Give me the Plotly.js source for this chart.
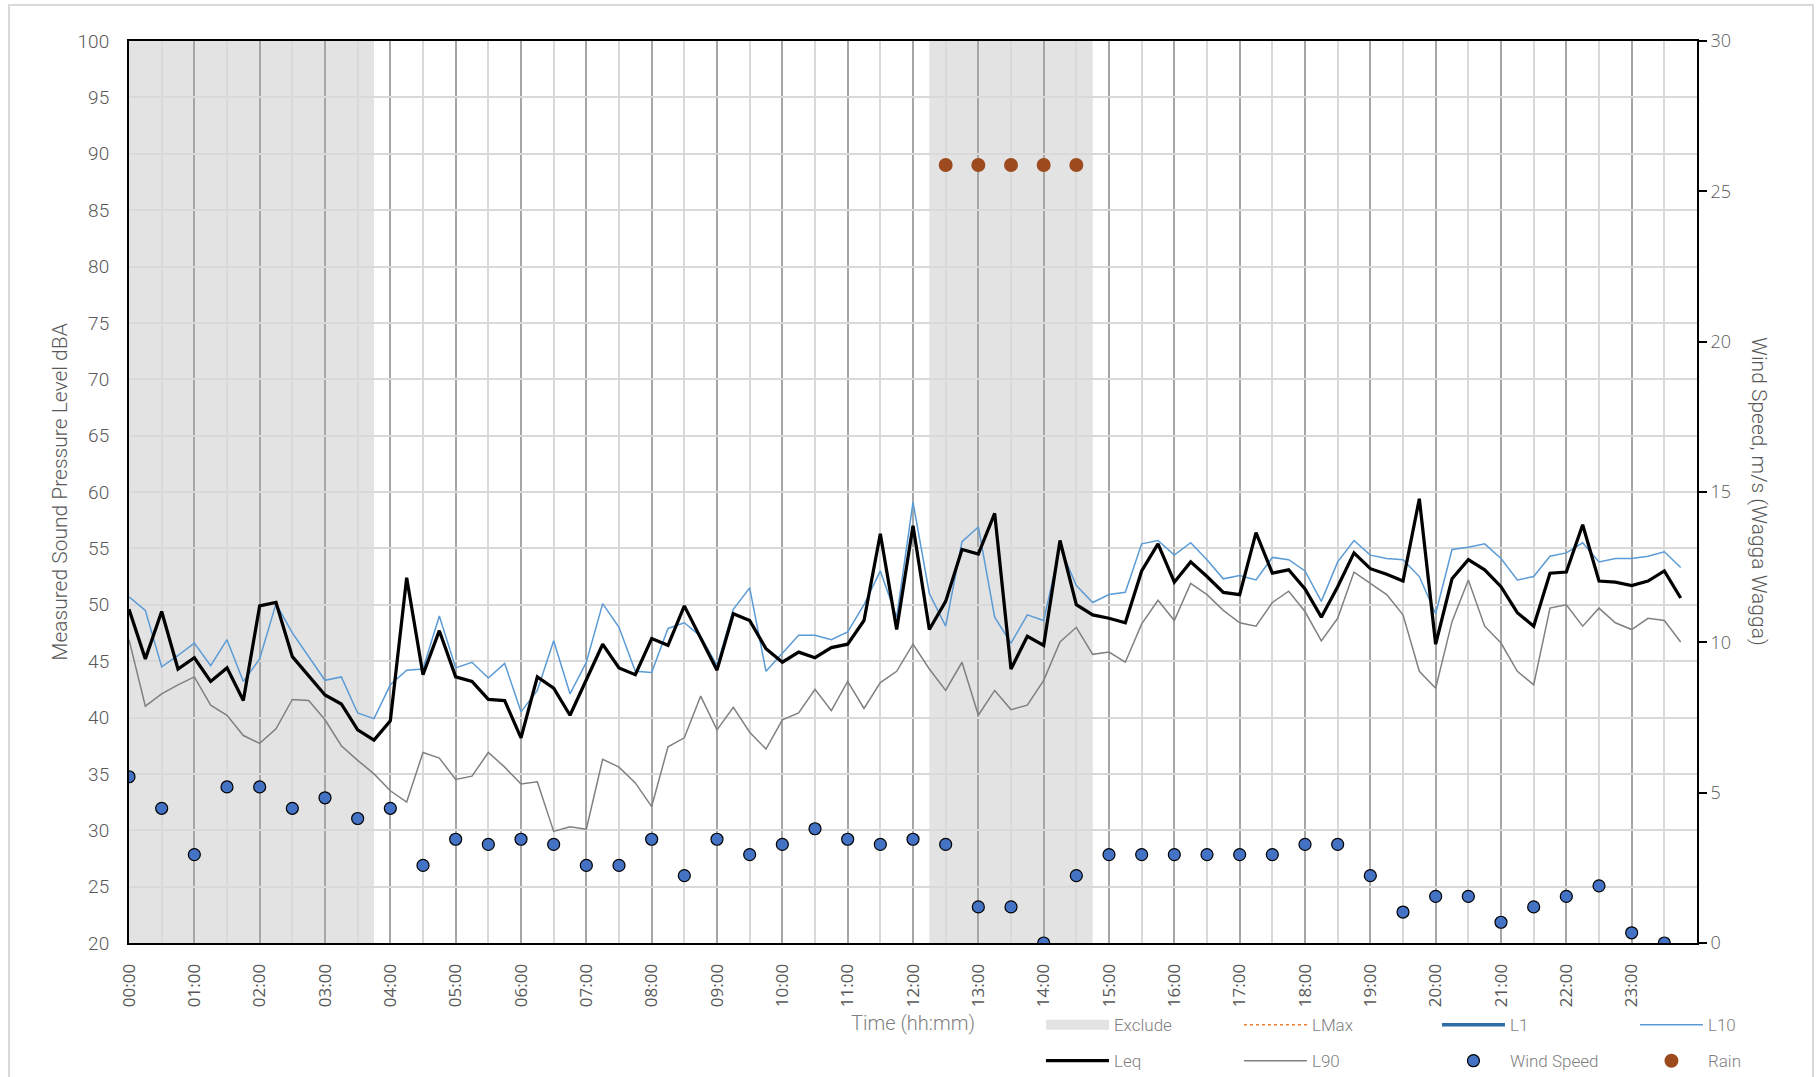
<!DOCTYPE html>
<html><head><meta charset="utf-8">
<script src="https://cdn.plot.ly/plotly-3.0.1.min.js"></script>
<style>
html,body{margin:0;padding:0;background:#fff;overflow:hidden;}
#chart{position:absolute;left:0;top:0;width:1816px;height:1077px;}
#frame{position:absolute;left:8px;top:4px;width:1802px;height:1200px;border:2px solid #d9d9d9;pointer-events:none;}
</style></head><body>
<div id="chart"></div><div id="frame"></div>
<script>
const DAY = '2000-01-01 ';
function pad(n){return (n<10?'0':'')+n;}
// 15-minute interval time labels
const times = [];
for (let h = 0; h < 24; h++) for (let m = 0; m < 60; m += 15) times.push(pad(h) + ':' + pad(m));
// 30-minute interval time labels (wind)
const windTimes = [];
for (let h = 0; h < 24; h++) for (let m = 0; m < 60; m += 30) windTimes.push(pad(h) + ':' + pad(m));
const hourTicks = [];
const halfHourTicks = [];
for (let h = 0; h < 24; h++) { hourTicks.push(pad(h) + ':00'); halfHourTicks.push(pad(h) + ':30'); }

const leq = [49.6,45.2,49.4,44.3,45.3,43.2,44.4,41.5,49.9,50.2,45.4,43.7,42.0,41.2,38.9,38.0,
  39.7,52.4,43.8,47.7,43.6,43.2,41.6,41.5,38.2,43.6,42.6,40.2,43.3,46.5,44.4,43.8,
  47.0,46.4,49.9,47.1,44.2,49.2,48.6,46.1,44.9,45.8,45.3,46.2,46.5,48.6,56.3,47.8,
  57.0,47.8,50.3,54.9,54.5,58.1,44.3,47.2,46.4,55.7,50.0,49.1,48.8,48.4,53.0,55.4,
  52.0,53.8,52.5,51.1,50.9,56.4,52.8,53.1,51.4,48.9,51.6,54.6,53.2,52.7,52.1,59.4,
  46.5,52.3,54.0,53.1,51.6,49.3,48.1,52.8,52.9,57.1,52.1,52.0,51.7,52.1,53.0,50.6];
const l10 = [50.7,49.5,44.5,45.5,46.6,44.6,46.9,43.2,45.2,50.1,47.5,45.4,43.3,43.6,40.4,39.9,
  42.9,44.2,44.3,49.0,44.4,44.9,43.5,44.8,40.5,42.4,46.8,42.1,44.9,50.1,48.0,44.1,
  44.0,47.9,48.4,47.2,44.6,49.6,51.5,44.1,45.7,47.3,47.3,46.9,47.6,50.0,53.0,48.9,
  59.1,51.0,48.1,55.6,56.9,48.9,46.6,49.1,48.6,55.1,51.7,50.2,50.9,51.1,55.4,55.7,
  54.4,55.5,54.0,52.3,52.6,52.2,54.2,54.0,53.0,50.3,53.8,55.7,54.4,54.1,54.0,52.5,
  49.2,54.9,55.1,55.4,54.1,52.2,52.5,54.3,54.6,55.5,53.8,54.1,54.1,54.3,54.7,53.3];
const l90 = [46.9,41.0,42.1,42.9,43.6,41.1,40.2,38.4,37.7,39.0,41.6,41.5,39.8,37.5,36.2,35.0,
  33.5,32.5,36.9,36.4,34.5,34.8,36.9,35.6,34.1,34.3,29.9,30.3,30.1,36.3,35.6,34.2,
  32.1,37.4,38.2,41.9,38.9,40.9,38.7,37.2,39.8,40.4,42.5,40.6,43.2,40.8,43.1,44.1,
  46.5,44.3,42.4,44.9,40.2,42.4,40.7,41.1,43.3,46.7,48.0,45.6,45.8,44.9,48.3,50.4,
  48.6,51.9,50.9,49.5,48.4,48.1,50.2,51.2,49.4,46.8,48.8,52.9,51.9,50.9,49.1,44.1,
  42.6,48.5,52.2,48.1,46.6,44.1,42.9,49.7,50.0,48.1,49.7,48.4,47.8,48.8,48.6,46.7];
// L1 and LMax have no readings drawn in the chart (legend only)
const l1 = [null];
const lmax = [null];
const wind = [5.53,4.48,2.94,5.19,5.19,4.48,4.83,4.14,4.48,2.58,3.45,3.28,3.45,3.28,2.58,2.58,
  3.45,2.24,3.45,2.94,3.28,3.80,3.45,3.28,3.45,3.28,1.20,1.20,0,2.24,2.94,2.94,
  2.94,2.94,2.94,2.94,3.28,3.28,2.24,1.03,1.55,1.55,0.69,1.20,1.55,1.90,0.34,0];
const rainTimes = ['12:30','13:00','13:30','14:00','14:30'];
const rain = [89,89,89,89,89];
const excludeStart = ['00:00','12:15'];
const excludeEnd = ['03:45','14:45'];

const tx = t => DAY + t;
const X = times.map(tx);

const condensed = 'Roboto, "Liberation Sans Narrow", sans-serif';
const wide = '"Open Sans", "DejaVu Sans", sans-serif';
const EXCLUDE_COLOR = '#e3e3e3';

const data = [
  // legend key for the shaded "Exclude" periods (periods themselves are drawn as shapes below the grid)
  {name:'Exclude', x: [tx(excludeStart[0])], y: [null], type:'scatter', mode:'lines',
   line:{color:EXCLUDE_COLOR, width:12}, legend:'legend', legendrank:1},
  {name:'LMax', x: lmax.map((v,i)=>X[i]), y: lmax, type:'scatter', mode:'lines',
   line:{color:'#ED7D31', width:1.5, dash:'dot'}, legend:'legend', legendrank:2},
  {name:'L1', x: l1.map((v,i)=>X[i]), y: l1, type:'scatter', mode:'lines',
   line:{color:'#2E6DA8', width:3.5}, legend:'legend', legendrank:3},
  {name:'L10', x: X, y: l10, type:'scatter', mode:'lines',
   line:{color:'#5B9BD5', width:1.5}, legend:'legend', legendrank:4},
  {name:'L90', x: X, y: l90, type:'scatter', mode:'lines',
   line:{color:'#808080', width:1.5}, legend:'legend2', legendrank:2},
  {name:'Leq', x: X, y: leq, type:'scatter', mode:'lines',
   line:{color:'#000000', width:3.25}, legend:'legend2', legendrank:1},
  {name:'Wind Speed', x: windTimes.map(tx), y: wind, type:'scatter', mode:'markers', yaxis:'y2',
   marker:{color:'#4472C4', size:12, line:{color:'#000000', width:1.2}}, legend:'legend2', legendrank:3},
  {name:'Rain', x: rainTimes.map(tx), y: rain, type:'scatter', mode:'markers',
   marker:{color:'#9E4A1F', size:14}, legend:'legend2', legendrank:4}
];

const shapes = excludeStart.map((s,i) => ({
  type:'rect', xref:'x', yref:'paper', x0: tx(s), x1: tx(excludeEnd[i]), y0:0, y1:1,
  fillcolor:EXCLUDE_COLOR, line:{width:0}, layer:'below'
}));

const legendBase = {
  orientation:'h', xanchor:'left', yanchor:'middle', x:0.5816,
  itemwidth:63, entrywidth:120, entrywidthmode:'pixels', bgcolor:'rgba(0,0,0,0)',
  font:{family:condensed, weight:300, size:17, color:'#7f7f7f'}, traceorder:'normal'
};

const layout = {
  width:1816, height:1077,
  margin:{l:129, r:119, t:41, b:134, autoexpand:false},
  paper_bgcolor:'#ffffff', plot_bgcolor:'#ffffff',
  showlegend:true,
  xaxis:{
    type:'date', range:[tx('00:00'), '2000-01-02 00:00'],
    tickmode:'array', tickvals: hourTicks.map(tx), ticktext: hourTicks,
    tickangle:-90, ticks:'', ticklabelstandoff:12,
    tickfont:{family:wide, size:17, color:'#595959'},
    showgrid:true, gridcolor:'#a6a6a6', gridwidth:2,
    minor:{tickmode:'array', tickvals: halfHourTicks.map(tx), showgrid:true, gridcolor:'#d9d9d9', gridwidth:2, ticks:''},
    showline:true, linecolor:'#000000', linewidth:2, mirror:true, zeroline:false,
    title:{text:'Time (hh:mm)', standoff:10, font:{family:condensed, weight:300, size:20, color:'#7f7f7f'}}
  },
  yaxis:{
    range:[20,100], tickmode:'linear', tick0:20, dtick:5, ticks:'',
    ticklabelstandoff:14,
    tickfont:{family:condensed, weight:300, size:19, color:'#595959'},
    showgrid:true, gridcolor:'#d9d9d9', gridwidth:2, zeroline:false,
    showline:true, linecolor:'#000000', linewidth:2,
    title:{text:'Measured Sound Pressure Level dBA', standoff:4, font:{family:condensed, weight:300, size:21, color:'#595959'}}
  },
  yaxis2:{
    overlaying:'y', side:'right', range:[0,30], tickmode:'linear', tick0:0, dtick:5,
    ticks:'outside', ticklen:8, tickwidth:2, tickcolor:'#000000',
    tickfont:{family:wide, weight:300, size:18, color:'#595959'},
    showgrid:false, zeroline:false, showline:true, linecolor:'#000000', linewidth:2
  },
  legend: Object.assign({}, legendBase, {y:-0.0912}),
  legend2: Object.assign({}, legendBase, {y:-0.131}),
  shapes: shapes,
  annotations:[{
    text:'Wind Speed, m/s (Wagga Wagga)', xref:'paper', yref:'paper', x:1.0395, y:0.5,
    xanchor:'center', yanchor:'middle', textangle:90, showarrow:false,
    font:{family:condensed, weight:300, size:21, color:'#595959'}
  }]
};

Plotly.newPlot('chart', data, layout, {displayModeBar:false});
</script>
</body></html>
